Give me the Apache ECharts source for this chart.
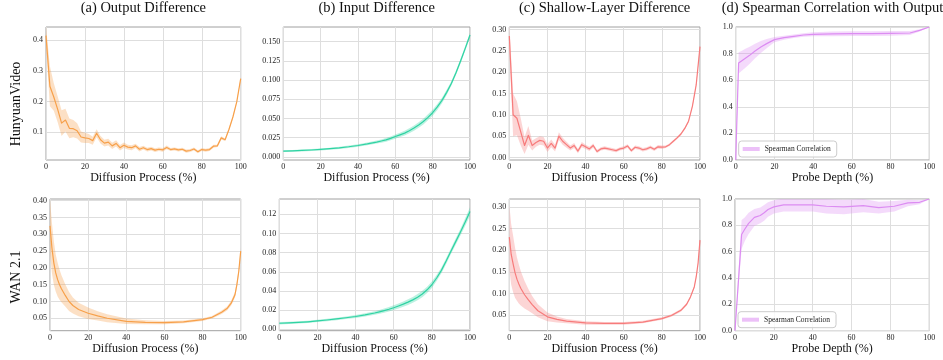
<!DOCTYPE html>
<html>
<head>
<meta charset="utf-8">
<script src="https://cdn.jsdelivr.net/npm/echarts@6/dist/echarts.min.js"></script>
<style>html,body{margin:0;padding:0;background:#fff}#c{width:943px;height:360px}</style>
</head>
<body>
<div id="c"></div>
<script>
// ---------- data ----------
const panelTitles = ['(a) Output Difference', '(b) Input Difference', '(c) Shallow-Layer Difference', '(d) Spearman Correlation with Output'];
const rowLabels = ['HunyuanVideo', 'WAN 2.1'];
const xName = 'Diffusion Process (%)';
const probeName = 'Probe Depth (%)';
const legendName = 'Spearman Correlation';
const xTicks = [0, 20, 40, 60, 80, 100];

const xsStep2 = [0,2,4,6,8,10,12,14,16,18,20,22,24,26,28,30,32,34,36,38,40,42,44,46,48,50,52,54,56,58,60,62,64,66,68,70,72,74,76,78,80,82,84,86,88,90,92,94,96,98,100];
const hyOutMean = [0.415,0.25,0.215,0.175,0.13,0.14,0.113,0.112,0.105,0.085,0.082,0.08,0.073,0.097,0.076,0.065,0.068,0.056,0.064,0.05,0.058,0.052,0.05,0.056,0.045,0.05,0.044,0.047,0.042,0.045,0.043,0.051,0.044,0.046,0.043,0.045,0.039,0.041,0.046,0.037,0.044,0.042,0.044,0.055,0.056,0.082,0.076,0.11,0.15,0.2,0.275];
const hyOutSpread = [0.03,0.065,0.045,0.042,0.042,0.037,0.032,0.028,0.025,0.018,0.017,0.015,0.013,0.013,0.012,0.011,0.011,0.01,0.01,0.009,0.009,0.008,0.008,0.007,0.007,0.006,0.006,0.006,0.006,0.006,0.006,0.006,0.005,0.005,0.005,0.005,0.005,0.005,0.005,0.005,0.005,0.005,0.005,0.005,0.004,0.005,0.004,0.004,0.004,0.004,0.004];
const hyShallowMean = [0.285,0.10,0.092,0.06,0.028,0.052,0.028,0.035,0.04,0.038,0.022,0.033,0.022,0.05,0.038,0.03,0.022,0.028,0.015,0.03,0.025,0.02,0.028,0.014,0.02,0.022,0.02,0.018,0.016,0.02,0.022,0.027,0.016,0.024,0.022,0.018,0.02,0.024,0.019,0.025,0.024,0.025,0.03,0.038,0.046,0.055,0.068,0.085,0.12,0.17,0.26];
const hyShallowSpread = [0.03,0.05,0.04,0.032,0.02,0.022,0.012,0.01,0.01,0.01,0.009,0.009,0.008,0.009,0.008,0.007,0.006,0.006,0.005,0.006,0.005,0.005,0.005,0.004,0.004,0.004,0.004,0.004,0.004,0.004,0.004,0.004,0.004,0.004,0.004,0.004,0.004,0.004,0.004,0.004,0.004,0.003,0.003,0.003,0.003,0.003,0.003,0.003,0.003,0.003,0.003];

const xsInput = [0,5,10,15,20,25,30,35,40,45,50,52.5,55,57.5,60,62.5,65,67.5,70,72.5,75,77.5,80,82.5,85,87.5,90,92.5,95,97.5,100];
const hyInMean = [0.0075,0.0079,0.0084,0.0090,0.0098,0.0107,0.0118,0.0132,0.0149,0.0169,0.0193,0.0207,0.0222,0.0242,0.0265,0.0287,0.031,0.034,0.0375,0.0415,0.046,0.0515,0.0575,0.065,0.0735,0.084,0.0955,0.1095,0.125,0.1415,0.1585];
const hyInSpread = [0.0012,0.0012,0.0012,0.0012,0.0013,0.0013,0.0014,0.0015,0.0016,0.0018,0.002,0.0021,0.0023,0.0025,0.0027,0.0029,0.0031,0.0033,0.0035,0.0037,0.0038,0.0039,0.004,0.0038,0.0036,0.0033,0.003,0.003,0.003,0.003,0.003];
const wanInMean = [0.0063,0.0066,0.0071,0.0078,0.0087,0.0097,0.0108,0.012,0.0133,0.015,0.017,0.0182,0.0195,0.0209,0.0225,0.0243,0.0262,0.0283,0.0307,0.0335,0.0368,0.0412,0.0465,0.0535,0.0615,0.0712,0.0815,0.0915,0.1015,0.112,0.123];
const wanInSpread = [0.0012,0.0012,0.0012,0.0012,0.0012,0.0013,0.0013,0.0014,0.0015,0.0017,0.0019,0.002,0.0022,0.0023,0.0025,0.0026,0.0028,0.003,0.0031,0.0032,0.0033,0.0033,0.0033,0.0032,0.003,0.003,0.003,0.0032,0.0035,0.004,0.0045];

const xsWan = [0,1,2,3,4,5,6,8,10,12,15,20,25,30,40,50,60,70,80,85,90,93,95,97,98,99,100];
const wanOutMean = [0.325,0.26,0.215,0.185,0.165,0.15,0.138,0.118,0.10,0.088,0.076,0.065,0.057,0.05,0.041,0.038,0.037,0.039,0.046,0.053,0.068,0.08,0.095,0.12,0.15,0.19,0.25];
const wanOutSpread = [0.08,0.075,0.065,0.055,0.05,0.045,0.04,0.033,0.028,0.024,0.02,0.017,0.014,0.012,0.008,0.006,0.005,0.004,0.004,0.004,0.005,0.006,0.007,0.008,0.009,0.01,0.01];
const wanShallowMean = [0.23,0.19,0.168,0.148,0.133,0.122,0.112,0.097,0.085,0.074,0.06,0.046,0.04,0.036,0.032,0.031,0.031,0.034,0.042,0.049,0.061,0.075,0.092,0.115,0.138,0.17,0.223];
const wanShallowSpread = [0.075,0.07,0.065,0.058,0.05,0.045,0.04,0.032,0.025,0.02,0.015,0.01,0.007,0.005,0.004,0.003,0.003,0.003,0.003,0.003,0.003,0.003,0.003,0.003,0.003,0.003,0.003];

const hyProbeX = [0,1.5,3,5,7,10,13,16,20,25,30,35,40,50,60,70,80,90,95,100];
const hyProbeMean = [0,0.73,0.745,0.765,0.785,0.82,0.85,0.875,0.905,0.92,0.93,0.94,0.945,0.948,0.95,0.95,0.952,0.955,0.975,1.0];
const hyProbeSpread = [0,0.08,0.075,0.072,0.065,0.055,0.045,0.035,0.02,0.015,0.013,0.013,0.015,0.018,0.018,0.018,0.018,0.015,0.008,0];
const wanProbeX = [0,3.4,5,7,10,13,15,17,20,25,30,40,47,56,66,74,82,89,95,100];
const wanProbeMean = [0,0.73,0.77,0.815,0.86,0.875,0.895,0.92,0.94,0.955,0.955,0.955,0.945,0.94,0.95,0.935,0.945,0.97,0.975,1.0];
const wanProbeSpread = [0,0.11,0.09,0.08,0.065,0.06,0.06,0.055,0.05,0.05,0.05,0.05,0.055,0.055,0.05,0.045,0.04,0.025,0.015,0];

const ticksA = [0.1,0.2,0.3,0.4];
const ticksB = [0,0.025,0.05,0.075,0.1,0.125,0.15];
const ticksC = [0,0.05,0.1,0.15,0.2,0.25,0.3];
const ticksD = [0,0.2,0.4,0.6,0.8,1.0];
const ticksE = [0.05,0.1,0.15,0.2,0.25,0.3,0.35,0.4];
const ticksF = [0,0.02,0.04,0.06,0.08,0.1,0.12];
const ticksG = [0.05,0.1,0.15,0.2,0.25,0.3];
const ticksH = [0,0.2,0.4,0.6,0.8,1.0];

// ---------- styling / layout ----------
const FONT = "'Liberation Serif','DejaVu Serif',serif";
const ORANGE = '#f7a04a', GREEN = '#2fd3a3', RED = '#f77b7b', PURPLE = '#dc8cf2';
function fade(hex, a){const n=parseInt(hex.slice(1),16);return `rgba(${n>>16},${(n>>8)&255},${n&255},${a})`;}

const panels = [
  {xs:xsStep2, m:hyOutMean, s:hyOutSpread, c:ORANGE, ticks:ticksA, dec:1, min:0.01, max:0.443, g:[46,27,194.7,133], xn:xName},
  {xs:xsInput, m:hyInMean, s:hyInSpread, c:GREEN, ticks:ticksB, dec:3, min:-0.004, max:0.169, g:[283.3,27,186.7,133], xn:xName},
  {xs:xsStep2, m:hyShallowMean, s:hyShallowSpread, c:RED, ticks:ticksC, dec:2, min:-0.006, max:0.306, g:[509.3,27,190.7,133], xn:xName},
  {xs:hyProbeX, m:hyProbeMean, s:hyProbeSpread, c:PURPLE, ticks:ticksD, dec:1, min:0, max:1, g:[735.7,27,193.6,133], xn:probeName, legend:true},
  {xs:xsWan, m:wanOutMean, s:wanOutSpread, c:ORANGE, ticks:ticksE, dec:2, min:0.013, max:0.405, g:[50,199,190.7,131.7], xn:xName},
  {xs:xsInput, m:wanInMean, s:wanInSpread, c:GREEN, ticks:ticksF, dec:2, min:-0.0015, max:0.136, g:[279.3,199,190.7,131.7], xn:xName},
  {xs:xsWan, m:wanShallowMean, s:wanShallowSpread, c:RED, ticks:ticksG, dec:2, min:0.014, max:0.318, g:[509.3,199,190.7,131.7], xn:xName},
  {xs:wanProbeX, m:wanProbeMean, s:wanProbeSpread, c:PURPLE, ticks:ticksH, dec:1, min:0, max:1, g:[735,199,194.3,131.7], xn:probeName, legend:true}
];

const grid=[], xAxis=[], yAxis=[], series=[], title=[], legend=[];
panels.forEach((p,i)=>{
  grid.push({left:p.g[0], top:p.g[1], width:p.g[2], height:p.g[3], show:true, borderColor:'#a0a0a0', borderWidth:1, backgroundColor:'transparent'});
  xAxis.push({type:'value', gridIndex:i, min:0, max:100, interval:20,
    name:p.xn, nameLocation:'middle', nameGap:11, nameTextStyle:{fontFamily:FONT, fontSize:12, color:'#111'},
    axisLine:{show:false}, axisTick:{show:false},
    axisLabel:{fontFamily:FONT, fontSize:8, color:'#222', margin:3},
    splitLine:{show:true, lineStyle:{color:'#dedede', width:1}}});
  yAxis.push({type:'value', gridIndex:i, min:p.min, max:p.max,
    axisLine:{show:false}, axisTick:{show:false, customValues:p.ticks},
    axisLabel:{fontFamily:FONT, fontSize:8, color:'#222', margin:3, customValues:p.ticks, formatter:v=>Number(v).toFixed(p.dec)},
    splitLine:{show:true, lineStyle:{color:'#dedede', width:1}}});
  const bandData = p.xs.map((x,k)=>[x, p.m[k]-p.s[k], p.m[k]+p.s[k]]);
  const fill = fade(p.c, 0.32);
  series.push({type:'custom', xAxisIndex:i, yAxisIndex:i, data:bandData, silent:true, z:1,
    encode:{x:0, y:[1,2]},
    renderItem:(params, api)=>{
      if (params.dataIndex !== 0) return;
      const up=[], dn=[];
      bandData.forEach(d=>{ up.push(api.coord([d[0], d[2]])); dn.push(api.coord([d[0], d[1]])); });
      const cs = params.coordSys;
      return {type:'polygon', shape:{points: up.concat(dn.reverse())}, style:{fill, stroke:null},
        clipPath:{type:'rect', shape:{x:cs.x, y:cs.y, width:cs.width, height:cs.height}}};
    }});
  series.push({type:'line', name: p.legend ? legendName : 'mean'+i, xAxisIndex:i, yAxisIndex:i, data:p.xs.map((x,k)=>[x, p.m[k]]), symbol:'none',
    lineStyle:{color:p.c, width:1.2, join:'round'}, itemStyle:{color:p.c}, z:3});
  if (i<4) title.push({text:panelTitles[i], left:p.g[0]+p.g[2]/2, top:1, textAlign:'center', padding:0, textStyle:{fontFamily:FONT, fontSize:14.5, fontWeight:'normal', color:'#111'}});
  if (p.legend) legend.push({left:p.g[0]+3, top:p.g[1]+p.g[3]-19, orient:'vertical', data:[{name:legendName, icon:'rect', itemStyle:{color:fade(PURPLE,0.55)}}],
    itemWidth:17, itemHeight:4, itemGap:2, padding:[4,6,4,4], borderColor:'#cccccc', borderWidth:1, borderRadius:3, backgroundColor:'rgba(255,255,255,0.8)',
    textStyle:{fontFamily:FONT, fontSize:7.5, color:'#222'}, selectedMode:false});
});

const chart = echarts.init(document.getElementById('c'), null, {renderer:'canvas'});
chart.setOption({
  animation:false,
  backgroundColor:'#fff',
  title, legend, grid, xAxis, yAxis, series,
  graphic:[
    {type:'text', x:16, y:104, rotation:Math.PI/2, style:{text:rowLabels[0], font:`14px ${FONT}`, fill:'#111', align:'center', verticalAlign:'middle'}},
    {type:'text', x:16, y:277, rotation:Math.PI/2, style:{text:rowLabels[1], font:`14px ${FONT}`, fill:'#111', align:'center', verticalAlign:'middle'}}
  ]
});
</script>
</body>
</html>
